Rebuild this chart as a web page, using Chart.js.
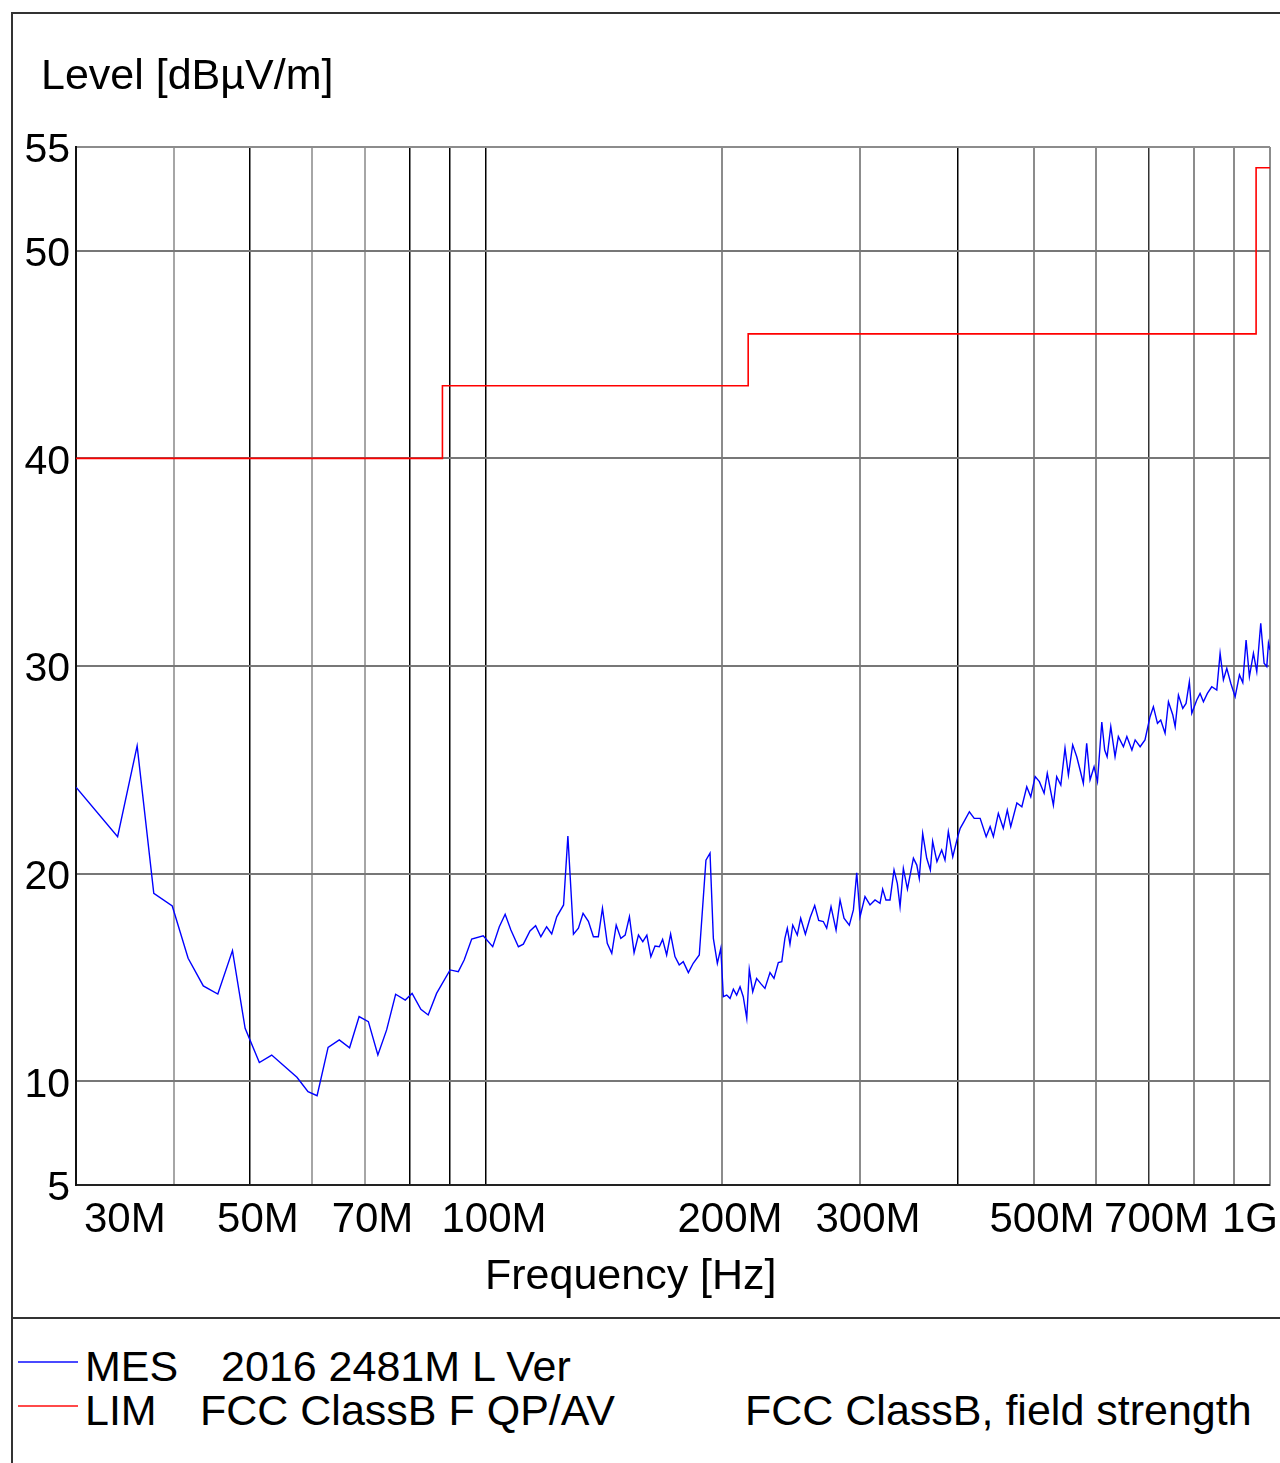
<!DOCTYPE html>
<html>
<head>
<meta charset="utf-8">
<script src="https://cdn.jsdelivr.net/npm/chart.js@4.4.1/dist/chart.umd.min.js"></script>
<style>
html,body{margin:0;padding:0;background:#fff;overflow:hidden;}
body{width:1280px;height:1463px;position:relative;font-family:"Liberation Sans",Arial,sans-serif;color:#000;}
#chart{position:absolute;left:0;top:0;}
.ln{position:absolute;background:#333;}
.t{position:absolute;font-size:43px;line-height:43px;white-space:pre;color:#000;}
.sw{position:absolute;left:18px;width:60px;height:2px;}
</style>
</head>
<body>
<canvas id="chart" width="1280" height="1318"></canvas>
<div class="ln" style="left:11px;top:12px;width:2px;height:1451px;"></div>
<div class="ln" style="left:11px;top:12px;width:1269px;height:2px;"></div>
<div class="ln" style="left:11px;top:1317px;width:1269px;height:2px;"></div>

<div class="t" style="left:41px;top:53px;">Level [dBµV/m]</div>
<div class="t" style="left:485px;top:1253px;">Frequency [Hz]</div>

<div class="sw" style="top:1361px;background:#4a4aff;"></div>
<div class="t" style="left:85px;top:1345px;">MES</div>
<div class="t" style="left:221px;top:1345px;">2016 2481M L Ver</div>
<div class="sw" style="top:1405px;background:#ff4a4a;"></div>
<div class="t" style="left:85px;top:1389px;">LIM</div>
<div class="t" style="left:200px;top:1389px;">FCC ClassB F QP/AV</div>
<div class="t" style="left:745px;top:1389px;">FCC ClassB, field strength</div>

<script>
// ---- data (frequency in MHz, level in dBµV/m) ----
const xTickValues = [30,40,50,60,70,80,90,100,200,300,400,500,600,700,800,900,1000];
const xTickLabels = ['30M','','50M','','70M','','','100M','200M','300M','','500M','','700M','','','1G'];
const yTickValues = [5,10,20,30,40,50,55];

const limFreq  = [30, 88, 216, 960, 1000];
const limLevel = [40, 43.5, 46, 54, 54];

const mesFreq = [30.0,33.9,35.9,37.7,39.8,41.7,43.6,45.5,47.5,49.3,51.4,53.3,55.1,57.4,59.3,60.9,62.9,65.0,67.0,68.9,
70.8,72.8,74.7,76.7,78.9,80.5,82.6,84.4,86.5,90.0,92.2,93.8,95.9,99.2,102.0,104.0,105.8,107.6,110.0,111.6,
113.8,115.7,117.5,119.5,121.3,123.1,125.6,127.2,129.3,131.2,133.0,135.1,137.1,139.1,140.8,142.8,144.7,146.6,148.6,150.5,
152.4,154.5,156.5,158.5,160.4,162.3,164.3,166.4,168.0,170.0,172.0,174.2,176.4,178.5,181.2,183.8,187.1,190.8,193.1,195.0,
197.3,199.3,200.8,202.8,204.8,206.8,208.8,210.9,212.9,215.1,216.7,218.9,221.4,224.0,226.9,230.3,233.0,236.0,238.4,240.6,
242.3,244.2,246.2,249.5,252.0,255.5,259.2,262.6,265.7,269.3,272.0,275.5,279.6,282.9,286.2,290.7,294.2,297.1,300.0,304.4,
308.9,313.5,318.1,320.6,323.7,327.6,331.5,334.7,337.4,340.7,344.8,350.9,354.4,357.0,360.6,364.9,368.8,371.3,376.0,381.3,
385.0,388.8,393.9,399.7,402.6,407.1,413.6,419.5,426.9,434.5,439.6,443.8,450.3,456.9,462.3,467.0,475.5,482.5,489.5,495.3,
501.7,508.0,515.1,519.9,529.3,534.5,541.0,547.7,553.2,560.2,566.9,572.5,578.0,583.7,589.5,596.5,602.5,610.2,615.4,619.8,
626.5,634.4,640.6,650.2,656.8,666.6,673.0,682.9,692.7,703.1,710.0,718.6,725.5,734.8,742.1,751.7,756.9,764.2,774.0,781.5,
789.1,794.8,806.5,814.4,822.4,832.0,842.8,855.3,863.7,872.1,880.8,891.2,902.7,914.2,923.2,932.2,941.3,952.5,961.9,973.2,
982.8,990.6,995.5,1000];

const mesLevel = [24.16,21.78,26.15,19.05,18.44,15.92,14.59,14.2,16.29,12.55,10.9,11.26,10.78,10.19,9.5,9.3,11.63,11.99,11.61,13.11,
12.87,11.26,12.47,14.19,13.91,14.23,13.46,13.19,14.23,15.36,15.28,15.84,16.85,17.0,16.48,17.44,18.04,17.28,16.48,16.6,
17.24,17.49,16.96,17.44,17.09,17.92,18.49,21.81,17.08,17.37,18.09,17.7,16.96,16.96,18.33,16.64,16.16,17.52,16.88,17.04,
17.92,16.19,17.04,16.72,17.04,16.0,16.51,16.48,16.83,16.08,17.09,16.0,15.6,15.76,15.23,15.68,16.08,20.65,20.98,16.88,
15.68,16.4,14.07,14.15,13.99,14.43,14.15,14.55,14.07,13.03,15.39,14.31,14.95,14.71,14.47,15.23,14.95,15.71,15.76,16.88,
17.37,16.6,17.52,17.04,17.85,17.08,17.9,18.46,17.75,17.69,17.37,18.41,17.28,18.73,17.85,17.52,18.25,20.04,17.92,18.89,
18.49,18.73,18.57,19.25,18.73,18.73,20.17,19.53,18.41,20.25,19.25,20.74,20.41,19.77,21.94,20.74,20.17,21.55,20.58,21.14,
20.65,22.02,20.81,21.78,22.18,22.5,22.98,22.66,22.66,21.78,22.26,21.78,22.9,22.18,23.06,22.26,23.4,23.22,24.18,23.7,
24.67,24.43,23.87,24.83,23.3,24.67,24.27,26.04,24.75,26.2,25.63,24.99,24.35,26.28,24.51,25.15,24.43,27.3,25.95,25.63,
27.08,25.63,26.6,26.11,26.6,25.95,26.44,26.11,26.44,27.56,28.04,27.24,27.4,26.76,28.28,27.64,27.08,28.6,27.96,28.2,
29.24,27.72,28.36,28.68,28.28,28.68,29.0,28.84,30.61,29.33,29.89,29.17,28.52,29.57,29.2,31.25,29.49,30.61,29.73,32.06,
30.13,29.97,31.1,30.77];

// ---- styling ----
const FONT = '"Liberation Sans", Arial, sans-serif';
const darkX = new Set([30,50,80,90,100,400,700]);
function xGridColor(v){
  if (darkX.has(v)) return v === 700 ? '#333333' : '#000000';
  if (v === 40 || v === 60 || v === 70) return '#a6a6a6';
  return '#8c8c8c';
}
function yGridColor(v){
  if (v === 55) return '#8c8c8c';
  if (v === 5) return '#222222';
  return '#777777';
}

const ctx = document.getElementById('chart').getContext('2d');
new Chart(ctx, {
  type: 'line',
  data: {
    datasets: [
      {
        label: 'LIM',
        data: limFreq.map((f, i) => ({x: f, y: limLevel[i]})),
        borderColor: '#ff0000',
        borderWidth: 1.6,
        pointRadius: 0,
        stepped: 'before',
        fill: false,
        order: 2
      },
      {
        label: 'MES',
        data: mesFreq.map((f, i) => ({x: f, y: mesLevel[i]})),
        borderColor: '#0000ff',
        borderWidth: 1.4,
        pointRadius: 0,
        tension: 0,
        fill: false,
        order: 1
      }
    ]
  },
  options: {
    responsive: false,
    animation: false,
    devicePixelRatio: 1,
    layout: {padding: {left: 0, top: 147, right: 10, bottom: 0}},
    plugins: {legend: {display: false}, tooltip: {enabled: false}, title: {display: false}},
    scales: {
      x: {
        type: 'logarithmic',
        min: 30, max: 1000,
        bounds: 'data',
        afterBuildTicks: s => { s.ticks = xTickValues.map(v => ({value: v})); },
        afterFit: s => { s.height = 133; },
        ticks: {
          autoSkip: false, maxRotation: 0, minRotation: 0,
          align: 'inner', labelOffset: 8, padding: 10,
          color: '#000', font: {family: FONT, size: 42},
          callback: (v) => { const i = xTickValues.indexOf(v); return i >= 0 ? xTickLabels[i] : ''; }
        },
        grid: {
          drawTicks: false,
          color: c => xGridColor(c.tick ? c.tick.value : 0),
          lineWidth: c => darkX.has(c.tick ? c.tick.value : 0) ? 1.5 : 2
        },
        border: {display: true, color: '#222', width: 2}
      },
      y: {
        type: 'linear',
        min: 5, max: 55,
        afterBuildTicks: s => { s.ticks = yTickValues.map(v => ({value: v})); },
        afterFit: s => { s.width = 76; },
        ticks: {
          autoSkip: false, padding: 6, labelOffset: 4,
          color: '#000', font: {family: FONT, size: 41},
          callback: v => String(v)
        },
        grid: {
          drawTicks: false,
          color: c => yGridColor(c.tick ? c.tick.value : 0),
          lineWidth: 2
        },
        border: {display: true, color: '#111', width: 2}
      }
    }
  }
});
</script>
</body>
</html>
